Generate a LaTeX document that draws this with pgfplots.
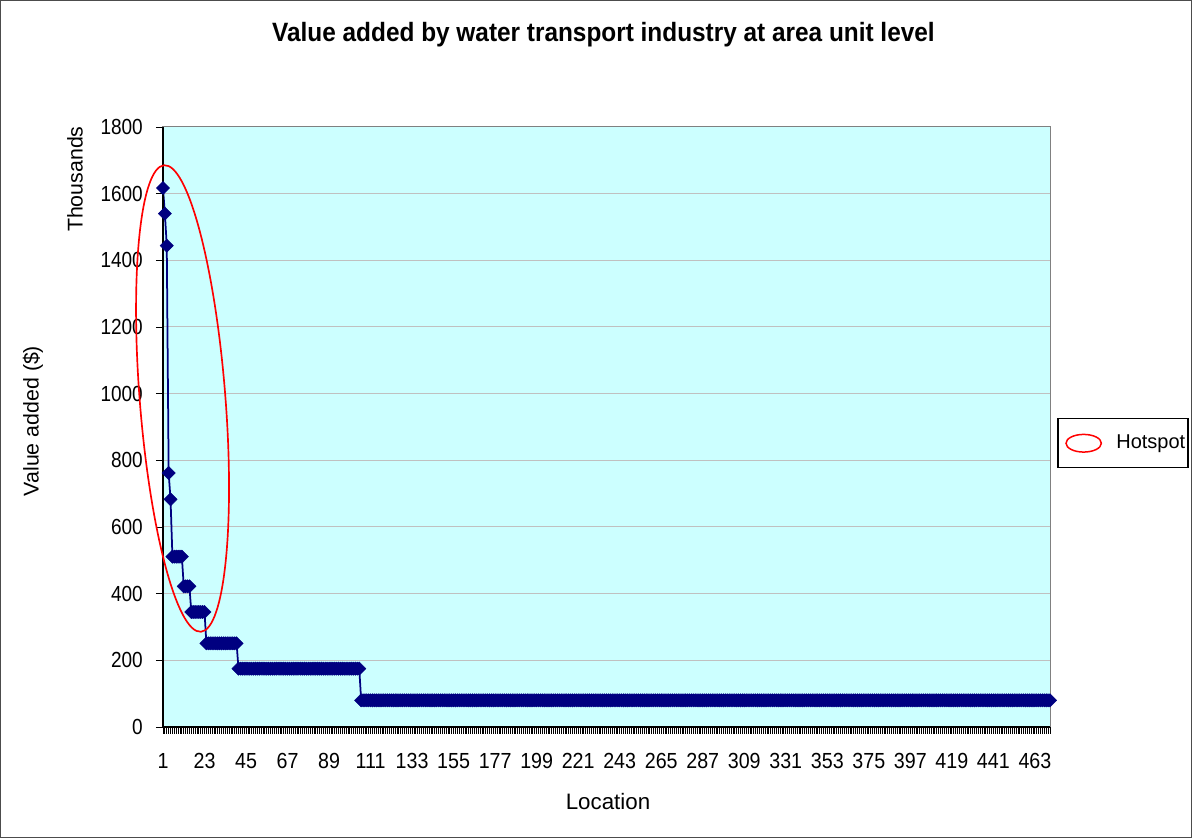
\documentclass[border=0pt]{standalone}
\usepackage{pgfplots}
\pgfplotsset{compat=1.18}
\usepackage{fontspec}
\setmainfont{Liberation Sans}
\newfontfamily\titlefont[FakeStretch=0.92]{Liberation Sans}
\newfontfamily\xtickfont[FakeStretch=0.9]{Liberation Sans}
\newfontfamily\ytickfont[FakeStretch=0.87]{Liberation Sans}
\definecolor{navy}{RGB}{0,0,128}
\definecolor{bgcyan}{RGB}{204,255,255}
\definecolor{gridgray}{RGB}{192,192,192}
\definecolor{boxgray}{RGB}{128,128,128}
\begin{document}
\begin{tikzpicture}[x=1pt,y=1pt]
\useasboundingbox (-97.8,-66.6) rectangle (617.4,436.2);
\draw[black!70, line width=0.6pt] (-97.5,-66.3) rectangle (617.1,435.9);
\begin{axis}[
  at={(0,0)}, anchor=south west,
  scale only axis, width=532.2pt, height=360pt,
  xmin=1, xmax=471, ymin=0, ymax=1800,
  clip=false,
  font=\fontsize{12.8}{15}\selectfont,
  /pgf/number format/assume math mode=true,
  /pgf/number format/1000 sep={},
  axis background/.style={fill=bgcyan},
  axis line style={draw=boxgray, line width=0.6pt},
  ytick={0,200,...,1800},
  xtick={1,23,...,463},
  minor xtick={1,2,...,471},
  scaled y ticks=false,
  ymajorgrids, grid style={draw=gridgray, line width=0.6pt},
  tick align=outside, tick pos=left,
  major tick length=4.2pt, minor tick length=4.2pt,
  every tick/.style={black, line width=0.5pt},
  every minor tick/.style={black, line width=0.5pt},
  xticklabel style={yshift=-8pt, font=\xtickfont\fontsize{13.1}{15}\selectfont},
  yticklabel style={xshift=-4.4pt, font=\ytickfont\fontsize{13.1}{15}\selectfont},
  title={\titlefont\fontsize{15.9}{18}\selectfont\bfseries Value added by water transport industry at area unit level},
  title style={at={(axis description cs:0.4966,1.1375)}, anchor=center},
  xlabel={Location},
  xlabel style={at={(axis description cs:0.5017,-0.124)}, anchor=center, font=\fontsize{13.4}{15}\selectfont},
  ylabel={Value added (\$)},
  ylabel style={at={(axis description cs:-0.1466,0.51)}, anchor=center},
]
\addplot[color=navy, line width=1.05pt, mark=square*, mark size=2.8pt,
  mark options={rotate=45, fill=navy, draw=navy, line width=0.3pt}] coordinates {
(1,1617)(2,1540)(3,1444)(4,762)(5,683)
(6,511)(7,511)(8,511)(9,511)(10,511)(11,511)
(12,422)(13,422)(14,422)(15,422)
(16,345)(17,345)(18,345)(19,345)(20,345)(21,345)(22,345)(23,345)
(24,251)(25,251)(26,251)(27,251)(28,251)(29,251)(30,251)(31,251)(32,251)(33,251)
(34,251)(35,251)(36,251)(37,251)(38,251)(39,251)(40,251)
(41,175)(42,175)(43,175)(44,175)(45,175)(46,175)(47,175)(48,175)(49,175)(50,175)
(51,175)(52,175)(53,175)(54,175)(55,175)(56,175)(57,175)(58,175)(59,175)(60,175)
(61,175)(62,175)(63,175)(64,175)(65,175)(66,175)(67,175)(68,175)(69,175)(70,175)
(71,175)(72,175)(73,175)(74,175)(75,175)(76,175)(77,175)(78,175)(79,175)(80,175)
(81,175)(82,175)(83,175)(84,175)(85,175)(86,175)(87,175)(88,175)(89,175)(90,175)
(91,175)(92,175)(93,175)(94,175)(95,175)(96,175)(97,175)(98,175)(99,175)(100,175)
(101,175)(102,175)(103,175)(104,175)(105,175)
(106,80)(107,80)(108,80)(109,80)(110,80)
(111,80)(112,80)(113,80)(114,80)(115,80)(116,80)(117,80)(118,80)(119,80)(120,80)
(121,80)(122,80)(123,80)(124,80)(125,80)(126,80)(127,80)(128,80)(129,80)(130,80)
(131,80)(132,80)(133,80)(134,80)(135,80)(136,80)(137,80)(138,80)(139,80)(140,80)
(141,80)(142,80)(143,80)(144,80)(145,80)(146,80)(147,80)(148,80)(149,80)(150,80)
(151,80)(152,80)(153,80)(154,80)(155,80)(156,80)(157,80)(158,80)(159,80)(160,80)
(161,80)(162,80)(163,80)(164,80)(165,80)(166,80)(167,80)(168,80)(169,80)(170,80)
(171,80)(172,80)(173,80)(174,80)(175,80)(176,80)(177,80)(178,80)(179,80)(180,80)
(181,80)(182,80)(183,80)(184,80)(185,80)(186,80)(187,80)(188,80)(189,80)(190,80)
(191,80)(192,80)(193,80)(194,80)(195,80)(196,80)(197,80)(198,80)(199,80)(200,80)
(201,80)(202,80)(203,80)(204,80)(205,80)(206,80)(207,80)(208,80)(209,80)(210,80)
(211,80)(212,80)(213,80)(214,80)(215,80)(216,80)(217,80)(218,80)(219,80)(220,80)
(221,80)(222,80)(223,80)(224,80)(225,80)(226,80)(227,80)(228,80)(229,80)(230,80)
(231,80)(232,80)(233,80)(234,80)(235,80)(236,80)(237,80)(238,80)(239,80)(240,80)
(241,80)(242,80)(243,80)(244,80)(245,80)(246,80)(247,80)(248,80)(249,80)(250,80)
(251,80)(252,80)(253,80)(254,80)(255,80)(256,80)(257,80)(258,80)(259,80)(260,80)
(261,80)(262,80)(263,80)(264,80)(265,80)(266,80)(267,80)(268,80)(269,80)(270,80)
(271,80)(272,80)(273,80)(274,80)(275,80)(276,80)(277,80)(278,80)(279,80)(280,80)
(281,80)(282,80)(283,80)(284,80)(285,80)(286,80)(287,80)(288,80)(289,80)(290,80)
(291,80)(292,80)(293,80)(294,80)(295,80)(296,80)(297,80)(298,80)(299,80)(300,80)
(301,80)(302,80)(303,80)(304,80)(305,80)(306,80)(307,80)(308,80)(309,80)(310,80)
(311,80)(312,80)(313,80)(314,80)(315,80)(316,80)(317,80)(318,80)(319,80)(320,80)
(321,80)(322,80)(323,80)(324,80)(325,80)(326,80)(327,80)(328,80)(329,80)(330,80)
(331,80)(332,80)(333,80)(334,80)(335,80)(336,80)(337,80)(338,80)(339,80)(340,80)
(341,80)(342,80)(343,80)(344,80)(345,80)(346,80)(347,80)(348,80)(349,80)(350,80)
(351,80)(352,80)(353,80)(354,80)(355,80)(356,80)(357,80)(358,80)(359,80)(360,80)
(361,80)(362,80)(363,80)(364,80)(365,80)(366,80)(367,80)(368,80)(369,80)(370,80)
(371,80)(372,80)(373,80)(374,80)(375,80)(376,80)(377,80)(378,80)(379,80)(380,80)
(381,80)(382,80)(383,80)(384,80)(385,80)(386,80)(387,80)(388,80)(389,80)(390,80)
(391,80)(392,80)(393,80)(394,80)(395,80)(396,80)(397,80)(398,80)(399,80)(400,80)
(401,80)(402,80)(403,80)(404,80)(405,80)(406,80)(407,80)(408,80)(409,80)(410,80)
(411,80)(412,80)(413,80)(414,80)(415,80)(416,80)(417,80)(418,80)(419,80)(420,80)
(421,80)(422,80)(423,80)(424,80)(425,80)(426,80)(427,80)(428,80)(429,80)(430,80)
(431,80)(432,80)(433,80)(434,80)(435,80)(436,80)(437,80)(438,80)(439,80)(440,80)
(441,80)(442,80)(443,80)(444,80)(445,80)(446,80)(447,80)(448,80)(449,80)(450,80)
(451,80)(452,80)(453,80)(454,80)(455,80)(456,80)(457,80)(458,80)(459,80)(460,80)
(461,80)(462,80)(463,80)(464,80)(465,80)(466,80)(467,80)(468,80)(469,80)(470,80)
(471,80)
};
\draw[black, line width=0.7pt] (rel axis cs:0,1) -- (rel axis cs:0,0) -- (rel axis cs:1,0);
\draw[red, line width=1pt, rotate around={4.5:(axis cs:11.36,985.5)}]
  (axis cs:11.36,985.5) ellipse [x radius=25.7pt, y radius=140.4pt];
\node[rotate=90, anchor=center] at (axis description cs:-0.0992,0.913) {Thousands};
\node[draw=black, line width=0.9pt, minimum width=78pt, minimum height=29.4pt,
  anchor=north west, inner sep=0pt] (leg) at (axis description cs:1.0079,0.515) {};
\draw[red, line width=0.9pt] ([xshift=16pt]leg.west) ellipse [x radius=10.6pt, y radius=5.3pt];
\node[anchor=west, inner sep=0pt, font=\fontsize{12}{14}\selectfont] at ([xshift=35.4pt]leg.west) {Hotspot};
\end{axis}
\end{tikzpicture}
\end{document}
